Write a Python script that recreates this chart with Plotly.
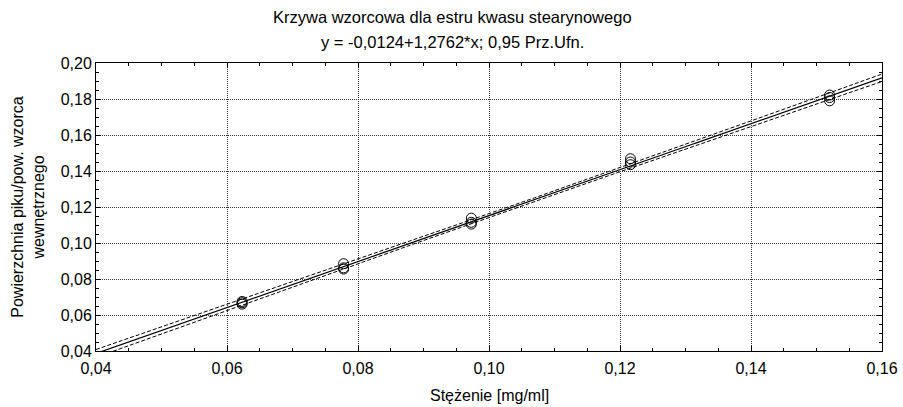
import numpy as np
import plotly.graph_objects as go

# Data
conc = [0.0623, 0.0623, 0.0623,
        0.0778, 0.0778, 0.0778,
        0.0973, 0.0973, 0.0973,
        0.1216, 0.1216, 0.1216,
        0.1520, 0.1520, 0.1520]
ratio = [0.0660, 0.0668, 0.0675,
         0.0855, 0.0862, 0.0885,
         0.1105, 0.1115, 0.1138,
         0.1435, 0.1450, 0.1468,
         0.1790, 0.1808, 0.1822]
intercept = -0.0124
slope = 1.2762
x_range = [0.04, 0.16]
y_range = [0.04, 0.20]
t_crit = 2.1604  # t(0.975, df=13)

title1 = "Krzywa wzorcowa dla estru kwasu stearynowego"
title2 = "y = -0,0124+1,2762*x; 0,95 Prz.Ufn."
x_title = "Stężenie [mg/ml]"
y_title = "Powierzchnia piku/pow. wzorca<br>wewnętrznego"

x = np.array(conc)
y = np.array(ratio)
n = len(x)
resid = y - (intercept + slope * x)
s = np.sqrt(np.sum(resid ** 2) / (n - 2))
sxx = np.sum((x - x.mean()) ** 2)
xl = np.linspace(x_range[0], x_range[1], 200)
yl = intercept + slope * xl
half = t_crit * s * np.sqrt(1.0 / n + (xl - x.mean()) ** 2 / sxx)

FONT = "Liberation Sans, Arial"
FS = 16

fig = go.Figure()
fig.add_trace(go.Scatter(x=xl, y=yl + half, mode="lines",
                         line=dict(color="black", width=1, dash="4px,2px"), hoverinfo="skip"))
fig.add_trace(go.Scatter(x=xl, y=yl - half, mode="lines",
                         line=dict(color="black", width=1, dash="4px,2px"), hoverinfo="skip"))
fig.add_trace(go.Scatter(x=xl, y=yl, mode="lines",
                         line=dict(color="black", width=1.2), hoverinfo="skip"))
fig.add_trace(go.Scatter(x=conc, y=ratio, mode="markers",
                         marker=dict(symbol="circle-open", size=10, color="black",
                                     line=dict(width=1, color="black"))))

axis_common = dict(
    showline=True, linecolor="black", linewidth=1, mirror="ticks",
    ticks="inside", ticklen=5, tickcolor="black", tickwidth=1,
    showgrid=True, gridcolor="#333333", griddash="1px,1px", gridwidth=1,
    zeroline=False, tickformat=".2f", automargin=False,
    tickfont=dict(family=FONT, size=FS, color="black"),
    minor=dict(ticks="inside", ticklen=3, tickcolor="black", showgrid=False),
)

fig.update_xaxes(range=x_range, dtick=0.02, tick0=0.04, ticklabelstandoff=3,
                 **axis_common)
fig.update_yaxes(range=y_range, dtick=0.02, tick0=0.04,
                 title=dict(text=y_title, standoff=12,
                            font=dict(family=FONT, size=FS, color="black")),
                 **axis_common)

fig.add_annotation(text=x_title, xref="paper", yref="paper", x=0.5, y=0.0,
                   yshift=-44, showarrow=False, xanchor="center", yanchor="middle",
                   font=dict(family=FONT, size=FS, color="black"))
fig.add_annotation(text=title1, xref="paper", yref="paper", x=(452 - 96) / 786, y=1.0,
                   yshift=46, showarrow=False, xanchor="center", yanchor="middle",
                   font=dict(family=FONT, size=16.5, color="black"))
fig.add_annotation(text=title2, xref="paper", yref="paper", x=(452 - 96) / 786, y=1.0,
                   yshift=21, showarrow=False, xanchor="center", yanchor="middle",
                   font=dict(family=FONT, size=16.5, color="black"))

fig.update_layout(
    width=903, height=407,
    margin=dict(l=96, r=21, t=63, b=56),
    paper_bgcolor="white", plot_bgcolor="white",
    showlegend=False, separators=",.",
)

fig.write_html("out.html")
